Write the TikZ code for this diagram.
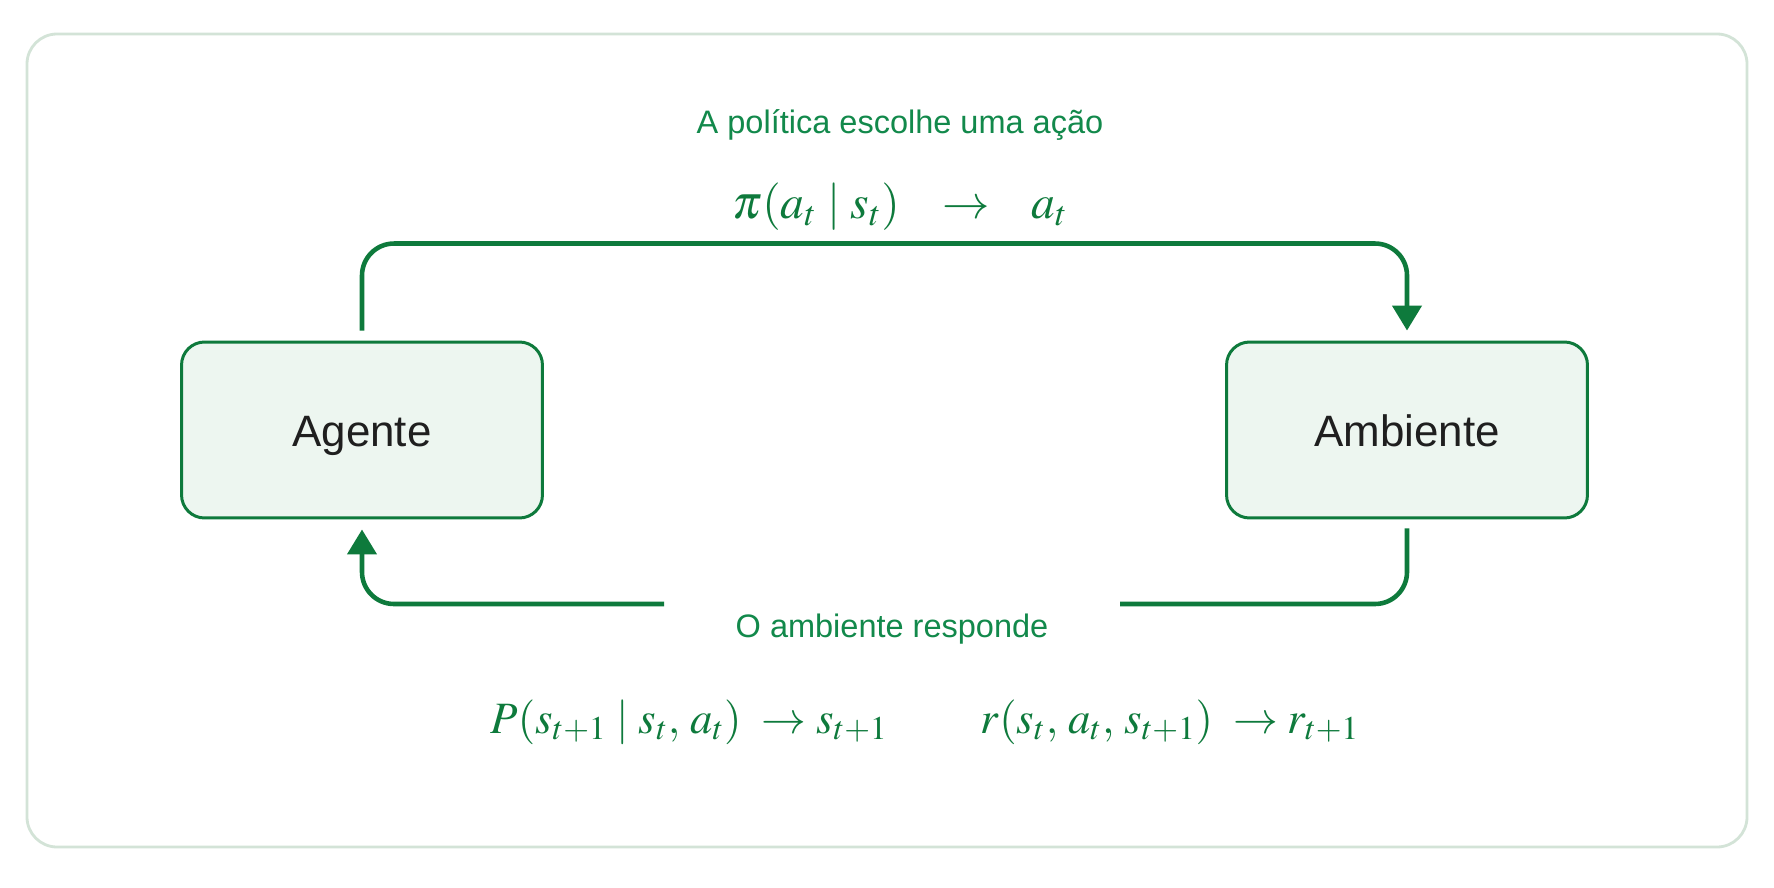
\documentclass[tikz,border=0pt]{standalone}
\usepackage{mathptmx}
\usepackage[no-math]{fontspec}
\setmainfont{Liberation Sans}
\usetikzlibrary{arrows.meta}

\definecolor{loopgreen}{HTML}{0E7A3C}
\definecolor{labelgreen}{HTML}{12894B}
\definecolor{boxfill}{HTML}{EDF6F0}
\definecolor{framegray}{HTML}{D3E3D7}

\begin{document}
\begin{tikzpicture}[x=0.02cm,y=0.02cm,
  block/.style={draw=loopgreen, line width=1.7pt, fill=boxfill, rounded corners=0.46cm,
    minimum width=7.22cm, minimum height=3.52cm, text height=24pt, text depth=4.8pt,
    font=\fontsize{25}{29}\selectfont, text=black!88},
  flow/.style={loopgreen, line width=2.6pt, rounded corners=0.64cm},
  tip/.style={-{Triangle[length=0.5cm,width=0.58cm]}},
  caption/.style={text=labelgreen, font=\fontsize{18.5}{22}\selectfont},
  formula/.style={text=loopgreen, font=\fontsize{25.5}{30}\selectfont}]
\useasboundingbox (0,0) rectangle (1774,887);
\draw [framegray, line width=1.6pt, fill=white, rounded corners=0.6cm] (27,40) rectangle (1747,853);

\node [block] (agent) at (362,457) {Agente};
\node [block] (env) at (1407,457) {Ambiente};

\node [caption] (policy) at (900,762) {A política escolhe uma ação};
\node [formula, font=\fontsize{27}{32}\selectfont] (pimath) at (900,680) {$\pi(a_t \mid s_t)\;\;\;\to\;\;\; a_t$};
\node [caption] (respond) at (892,258) {O ambiente responde};
\node [formula] (pmath) at (689,165) {$P(s_{t+1} \mid s_t,\, a_t)\;\to s_{t+1}$};
\node [formula] (rmath) at (1170,165) {$r(s_t,\, a_t,\, s_{t+1})\;\to r_{t+1}$};

\coordinate (gapR) at (1120,283);
\coordinate (gapL) at (664,283);

\draw [flow,tip] ([yshift=0.2cm]agent.north) -- ++(0,87) -| ([yshift=0.2cm]env.north);
\draw [flow] ([yshift=-0.18cm]env.south) |- (gapR);
\draw [flow,tip] (gapL) -| ([yshift=-0.2cm]agent.south);
\end{tikzpicture}
\end{document}
